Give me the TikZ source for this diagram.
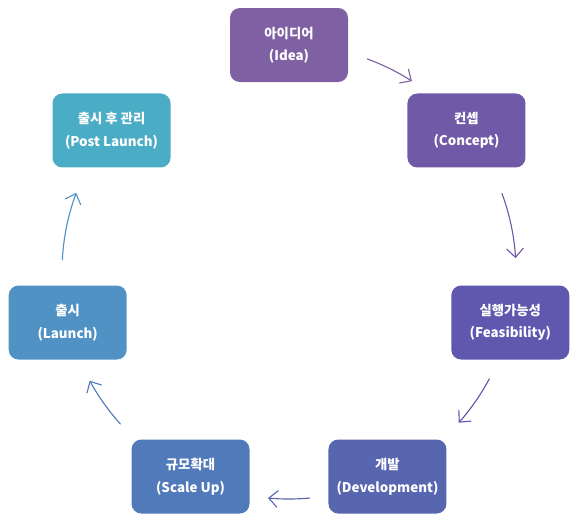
\documentclass[tikz,border=0pt]{standalone}
\usepackage{fontspec}
\usepackage{tikz}
\usetikzlibrary{arrows.meta}
\newfontfamily\krfont{Noto Sans CJK KR}
\definecolor{ideacol}{RGB}{127,96,163}
\definecolor{conceptcol}{RGB}{112,90,168}
\definecolor{feascol}{RGB}{96,88,174}
\definecolor{devcol}{RGB}{88,102,176}
\definecolor{scalecol}{RGB}{81,122,186}
\definecolor{launchcol}{RGB}{80,146,196}
\definecolor{postcol}{RGB}{75,172,198}

\begin{document}
\begin{tikzpicture}[
  every node/.style={font=\krfont\bfseries\fontsize{9.5}{16}\selectfont},
  stage/.style={rounded corners=7pt, minimum width=2.95cm, minimum height=1.85cm, align=center, text=white, inner sep=2pt},
  flow/.style={-{Straight Barb[length=2.2mm, width=4.2mm]}, line width=0.8pt}
]
  \def\R{5.675}
  \useasboundingbox (-7.225,-6.35) rectangle (7.25,6.8);

  % Stages
  \node[stage, fill=ideacol] (idea) at (90:\R) {아이디어\\(Idea)};
  \node[stage, fill=conceptcol] (concept) at (38.57:\R) {컨셉\\(Concept)};
  \node[stage, fill=feascol] (feas) at (-12.86:\R) {실행가능성\\(Feasibility)};
  \node[stage, fill=devcol] (dev) at (-64.29:\R) {개발\\(Development)};
  \node[stage, fill=scalecol] (scale) at (-115.71:\R) {규모확대\\(Scale Up)};
  \node[stage, fill=launchcol] (launch) at (-167.14:\R) {출시\\(Launch)};
  \node[stage, fill=postcol] (post) at (141.43:\R) {출시 후 관리\\(Post Launch)};

  % Arrows
  \foreach \a/\b/\c [count=\i] in {69.9/57.2/ideacol, 20.3/3.5/conceptcol, -28/-41.6/feascol, -84.7/-95.3/devcol, -137.9/-151.4/scalecol, -183/-200.4/launchcol} {
    \coordinate (p\i) at (\a:\R);
    \draw[flow, \c] (p\i) arc[start angle=\a, end angle=\b, radius=\R];
  }

\end{tikzpicture}
\end{document}
